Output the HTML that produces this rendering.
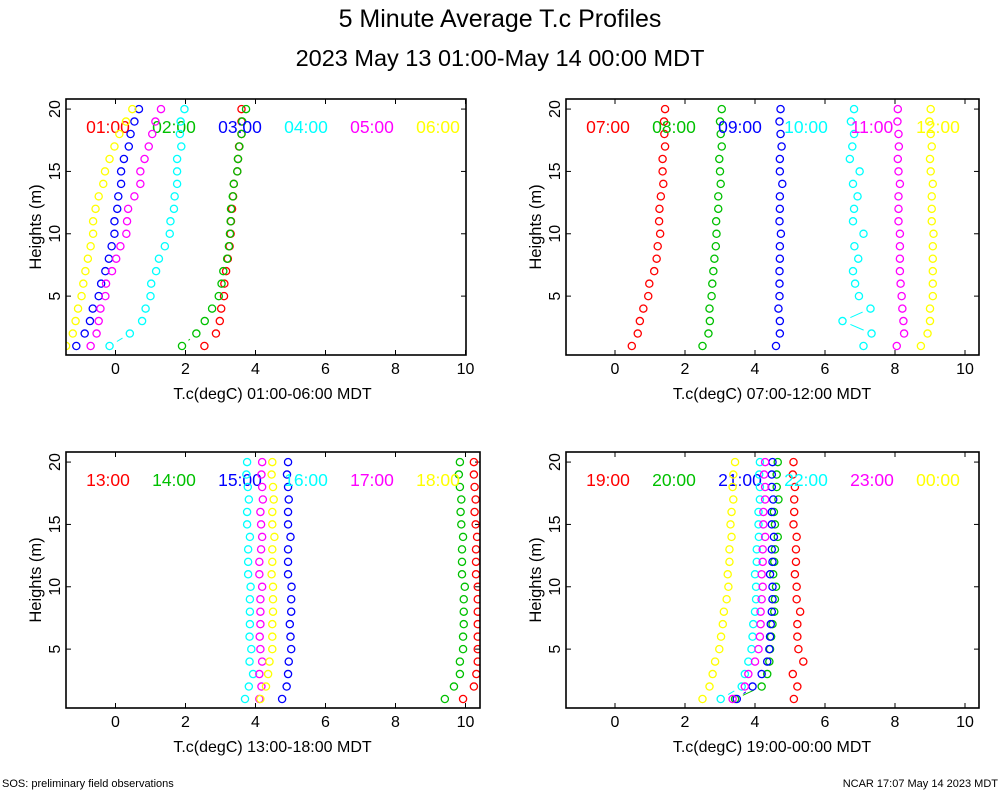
<!DOCTYPE html>
<html><head><meta charset="utf-8"><style>
body{margin:0;background:#fff;}
svg{display:block;font-family:"Liberation Sans",sans-serif;}
</style></head><body>
<svg id="chart" width="1000" height="800" viewBox="0 0 1000 800">
<rect x="0" y="0" width="1000" height="800" fill="#fff"/>
<text x="500" y="27" font-size="25" text-anchor="middle">5 Minute Average T.c Profiles</text>
<text x="500" y="66" font-size="23.5" text-anchor="middle">2023 May 13 01:00-May 14 00:00 MDT</text>
<text x="2" y="787" font-size="11">SOS: preliminary field observations</text>
<text x="998" y="787" font-size="11" text-anchor="end">NCAR 17:07 May 14 2023 MDT</text>
</svg>
<script>
const heights=[20,19,18,17,16,15,14,13,12,11,10,9,8,7,6,5,4,3,2,1];
const xTicks=[0,2,4,6,8,10];
const yTicks=[5,10,15,20];
const labels1=["01:00","02:00","03:00","04:00","05:00","06:00"];
const labels2=["07:00","08:00","09:00","10:00","11:00","12:00"];
const labels3=["13:00","14:00","15:00","16:00","17:00","18:00"];
const labels4=["19:00","20:00","21:00","22:00","23:00","00:00"];
const s0100=[3.60,3.60,3.60,3.53,3.50,3.48,3.38,3.36,3.33,3.30,3.29,3.26,3.21,3.16,3.11,3.10,3.02,2.98,2.87,2.54];
const s0200=[3.73,3.62,3.60,3.54,3.50,3.48,3.38,3.35,3.30,3.29,3.27,3.24,3.19,3.08,3.03,2.95,2.76,2.55,2.31,1.90];
const s0300=[0.67,0.54,0.43,0.38,0.24,0.16,0.16,0.08,0.05,-0.03,-0.03,-0.11,-0.19,-0.29,-0.41,-0.48,-0.65,-0.73,-0.88,-1.12];
const s0400=[1.97,1.86,1.84,1.88,1.76,1.76,1.76,1.69,1.67,1.57,1.55,1.41,1.24,1.16,1.02,1.00,0.86,0.76,0.41,-0.17];
const s0500=[1.30,1.14,1.05,0.95,0.83,0.71,0.71,0.54,0.36,0.33,0.31,0.14,0.02,-0.10,-0.27,-0.29,-0.43,-0.48,-0.54,-0.71];
const s0600=[0.48,0.30,0.11,-0.03,-0.17,-0.30,-0.35,-0.48,-0.57,-0.64,-0.64,-0.71,-0.79,-0.86,-0.92,-0.97,-1.07,-1.14,-1.22,-1.41];
const s0700=[1.43,1.40,1.41,1.43,1.36,1.36,1.38,1.31,1.27,1.26,1.29,1.22,1.19,1.12,0.98,0.95,0.81,0.71,0.65,0.48];
const s0800=[3.05,3.00,3.02,3.05,2.98,3.00,3.02,2.95,2.95,2.89,2.90,2.88,2.84,2.81,2.78,2.76,2.70,2.71,2.67,2.50];
const s0900=[4.73,4.70,4.73,4.76,4.71,4.71,4.78,4.71,4.71,4.70,4.74,4.71,4.71,4.70,4.70,4.70,4.67,4.71,4.71,4.60];
const s1000=[6.83,6.74,6.83,6.78,6.71,6.99,6.80,6.93,6.83,6.80,7.10,6.84,6.95,6.80,6.86,6.97,7.30,6.50,7.33,7.10];
const s1100=[8.08,8.07,8.10,8.11,8.08,8.10,8.14,8.10,8.10,8.10,8.14,8.14,8.14,8.14,8.16,8.19,8.21,8.24,8.26,8.05];
const s1200=[9.02,8.98,9.02,9.05,9.00,9.02,9.08,9.05,9.05,9.05,9.10,9.08,9.08,9.08,9.08,9.08,9.00,9.00,8.93,8.74];
const s1300=[10.24,10.24,10.26,10.29,10.26,10.29,10.33,10.30,10.30,10.30,10.35,10.35,10.35,10.35,10.35,10.35,10.35,10.31,10.24,9.93];
const s1400=[9.84,9.81,9.84,9.88,9.86,9.88,9.93,9.90,9.90,9.90,9.98,9.95,9.95,9.95,9.93,9.93,9.84,9.84,9.67,9.41];
const s1500=[4.93,4.90,4.93,4.95,4.93,4.93,5.00,4.93,4.93,4.93,5.03,5.02,5.02,4.98,5.00,5.02,4.95,4.93,4.89,4.76];
const s1600=[3.76,3.74,3.78,3.81,3.76,3.76,3.84,3.79,3.79,3.79,3.86,3.84,3.84,3.84,3.83,3.88,3.83,3.93,3.81,3.70];
const s1700=[4.19,4.17,4.19,4.21,4.14,4.16,4.19,4.16,4.11,4.11,4.19,4.14,4.14,4.14,4.12,4.14,4.19,4.11,4.17,4.11];
const s1800=[4.48,4.46,4.50,4.52,4.48,4.48,4.54,4.48,4.48,4.46,4.50,4.50,4.50,4.48,4.48,4.48,4.40,4.36,4.30,4.14];
const s1900=[5.10,5.08,5.14,5.12,5.12,5.10,5.19,5.17,5.17,5.14,5.19,5.19,5.29,5.21,5.21,5.24,5.38,5.08,5.21,5.11];
const s2000=[4.65,4.62,4.62,4.67,4.54,4.57,4.65,4.57,4.55,4.52,4.60,4.57,4.55,4.50,4.46,4.43,4.41,4.35,4.19,3.43];
const s2100=[4.50,4.48,4.48,4.52,4.48,4.48,4.54,4.48,4.50,4.43,4.50,4.50,4.48,4.45,4.43,4.41,4.35,4.19,3.93,3.48];
const s2200=[4.14,4.12,4.14,4.14,4.10,4.10,4.11,4.05,4.05,4.00,4.03,4.03,4.00,3.95,3.93,3.90,3.81,3.71,3.62,3.02];
const s2300=[4.29,4.26,4.29,4.29,4.24,4.24,4.29,4.22,4.22,4.19,4.22,4.19,4.16,4.16,4.14,4.10,4.00,3.81,3.71,3.36];
const s0000=[3.43,3.38,3.36,3.38,3.33,3.30,3.33,3.27,3.27,3.22,3.24,3.19,3.11,3.08,3.03,2.98,2.86,2.79,2.70,2.50];

const colors=["#ff0000","#00c000","#0000ff","#00ffff","#ff00ff","#ffff00"];
const NS="http://www.w3.org/2000/svg";
const svg=document.getElementById('chart');
function mk(tag,attrs,parent){const e=document.createElementNS(NS,tag);for(const k in attrs)e.setAttribute(k,attrs[k]);(parent||svg).appendChild(e);return e;}

const panels=[
 {left:66,right:466,top:99,bottom:355,x0:115.5,xlab:"T.c(degC) 01:00-06:00 MDT",labels:labels1,series:[s0100,s0200,s0300,s0400,s0500,s0600]},
 {left:566,right:979,top:99,bottom:355,x0:615,xlab:"T.c(degC) 07:00-12:00 MDT",labels:labels2,series:[s0700,s0800,s0900,s1000,s1100,s1200]},
 {left:66,right:480,top:452,bottom:708,x0:115.5,xlab:"T.c(degC) 13:00-18:00 MDT",labels:labels3,series:[s1300,s1400,s1500,s1600,s1700,s1800]},
 {left:566,right:979,top:452,bottom:708,x0:615,xlab:"T.c(degC) 19:00-00:00 MDT",labels:labels4,series:[s1900,s2000,s2100,s2200,s2300,s0000]}
];
const R=3.6;
panels.forEach((p,pi)=>{
  const dy=p.top-99;
  const xs=v=>p.x0+35*v;
  const ys=h=>346+dy-(h-1)*12.47;
  const g=mk('g',{});
  
  
  const cp=mk('clipPath',{id:'clip'+pi},g);
  mk('rect',{x:p.left,y:p.top,width:p.right-p.left,height:p.bottom-p.top},cp);
  xTicks.forEach(t=>{
    const x=xs(t);
    const l1=mk('line',{x1:x,x2:x,y1:p.bottom,y2:p.bottom-5,stroke:'#000','stroke-width':1},g);
    
    
    mk('line',{x1:x,x2:x,y1:p.top,y2:p.top+5,stroke:'#000','stroke-width':1},g);
    const tx=mk('text',{x:x,y:p.bottom+19,'font-size':16,'text-anchor':'middle'},g);
    tx.textContent=t;
    
    
  });
  yTicks.forEach(t=>{
    const y=ys(t);
    const l=mk('line',{x1:p.left,x2:p.left+5,y1:y,y2:y,stroke:'#000','stroke-width':1},g);
    
    
    mk('line',{x1:p.right,x2:p.right-5,y1:y,y2:y,stroke:'#000','stroke-width':1},g);
    const tx=mk('text',{x:0,y:0,'font-size':16,'text-anchor':'middle',transform:`translate(${p.left-6},${y}) rotate(-90)`},g);
    tx.textContent=t;
    
    
  });
  const yl=mk('text',{x:0,y:0,'font-size':16.5,'text-anchor':'middle',transform:`translate(${p.left-25},${(p.top+p.bottom)/2}) rotate(-90)`},g);
  yl.textContent='Heights (m)';
  
  
  const xl=mk('text',{x:p.x0+157,y:p.bottom+44,'font-size':16,'text-anchor':'middle'},g);
  xl.textContent=p.xlab;
  
  
  p.series.forEach((vals,si)=>{
    const sg=mk('g',{'clip-path':`url(#clip${pi})`,stroke:colors[si],fill:'none','stroke-width':1.3},g);
    
    
    for(let i=0;i<vals.length-1;i++){
      const x1=xs(vals[i]),y1=ys(heights[i]),x2=xs(vals[i+1]),y2=ys(heights[i+1]);
      const d=Math.hypot(x2-x1,y2-y1);
      const gap=R+5;
      if(d>2*gap+1){
        const ux=(x2-x1)/d,uy=(y2-y1)/d;
        const ln=mk('line',{x1:x1+ux*gap,y1:y1+uy*gap,x2:x2-ux*gap,y2:y2-uy*gap,'stroke-width':1},sg);
        
        
      }
    }
    vals.forEach((v,i)=>{
      const c=mk('circle',{cx:xs(v),cy:ys(heights[i]),r:R},sg);
      
      
    });
    const lt=mk('text',{x:p.left+42+66*si,y:p.top+34,'font-size':17.5,'text-anchor':'middle',fill:colors[si]},g);
    lt.textContent=p.labels[si];
    
    
  });
  const fr=mk('rect',{x:p.left,y:p.top,width:p.right-p.left,height:p.bottom-p.top,fill:'none',stroke:'#000','stroke-width':1.6},g);
  
  
});
</script>
</body></html>
